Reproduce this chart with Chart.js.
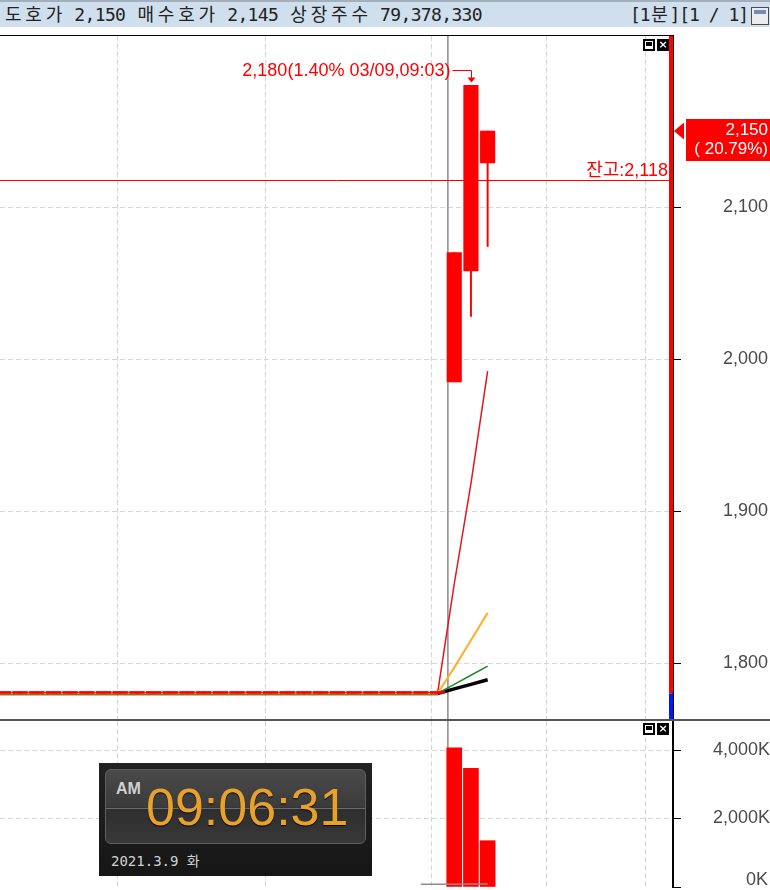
<!DOCTYPE html>
<html lang="ko"><head><meta charset="utf-8">
<script src="https://cdn.jsdelivr.net/npm/chart.js@4/dist/chart.umd.min.js"></script>
<style>
*{box-sizing:border-box}
html,body{margin:0;padding:0;background:#fff;width:770px;height:890px;overflow:hidden;position:relative;font-family:'Liberation Sans','Noto Sans CJK KR',sans-serif}
#hdr{position:absolute;left:0;top:0;width:770px;height:27px;background:#cfdfee;border-top:2px solid #a3afbb}
.mono{position:absolute;top:1px;white-space:nowrap;color:#222;font-family:'DejaVu Sans Mono','Noto Sans CJK KR',monospace;font-size:18px;line-height:24px}
.mono span{display:inline-block;text-align:center}
#winIcon{position:absolute;left:751px;top:5px;width:18px;height:18px;border:1px solid #4d4d4d;background:#ececec}
#winIcon:before{content:'';position:absolute;left:2px;top:2px;right:2px;height:4px;background:#6f8db8}
#priceWrap{position:absolute;left:0;top:30px;width:770px;height:690px}
#volWrap{position:absolute;left:0;top:720px;width:770px;height:170px}
#sep{position:absolute;left:0;top:719px;width:770px;height:2px;background:#555}
.bmax{position:absolute;width:12px;height:12px;background:#fff;border:2px solid #000}
.bmax:after{content:'';position:absolute;left:1px;top:1px;width:6px;height:4px;background:#000}
.bx{position:absolute;width:12px;height:12px;background:#000;color:#fff;font:bold 11px/12px 'DejaVu Sans',sans-serif;text-align:center}
#clock{position:absolute;left:99px;top:763px;width:273px;height:113px;background:linear-gradient(#222,#161616);z-index:5}
#clockFace{position:absolute;left:6px;top:6px;width:261px;height:75px;border-radius:6px;border:1px solid #5e5e5e;background:linear-gradient(#4a4a4a 0%,#3b3b3b 51%,#2e2e2e 52%,#383838 100%)}
#clockLine{position:absolute;left:0;right:0;top:38px;height:1px;background:#6c6c6c}
#ampm{position:absolute;left:10px;top:11px;font:bold 16px/16px 'Liberation Sans',sans-serif;color:#d0d0d0}
#clockTime{position:absolute;left:40px;top:11px;font:52px/52px 'Liberation Sans',sans-serif;color:#e8a22c;text-shadow:0 1px 1px #000}
#clockDate{position:absolute;left:12px;top:91px;font:14px/14px 'DejaVu Sans Mono','Noto Sans CJK KR',monospace;color:#d2d2d2}
</style>
</head><body>
<div id="hdr">
  <div class="mono" id="hdrLeft" style="left:3px"></div>
  <div class="mono" id="hdrRight" style="left:630px"></div>
  <div id="winIcon"></div>
</div>
<div id="priceWrap"><canvas id="price" width="770" height="690"></canvas></div>
<div id="volWrap"><canvas id="vol" width="770" height="170"></canvas></div>
<div id="sep"></div>
<div class="bmax" style="left:643px;top:39px"></div><div class="bx" style="left:657px;top:39px">×</div>
<div class="bmax" style="left:643px;top:723px"></div><div class="bx" style="left:657px;top:723px">×</div>
<div id="clock">
  <div id="clockFace"><div id="clockLine"></div><span id="ampm">AM</span><span id="clockTime">09:06:31</span></div>
  <span id="clockDate">2021.3.9 화</span>
</div>
<script>
// ---------------- data ----------------
const headerLeft = '도호가 2,150 매수호가 2,145 상장주수 79,378,330';
const headerRight = '[1분][1 / 1]';
const tradeDate = '03/09';
const times = ['15:03','15:04','15:05','15:06','15:07','15:08','15:09','15:10','15:11','15:12','15:13','15:14','15:15','15:16','15:17','15:18','15:19','15:20','15:21','15:22','15:23','15:24','15:25','15:26','15:27','15:28','15:29','15:30','09:02','09:03','09:04'];
const opens  = [1780,1780,1780,1780,1780,1780,1780,1780,1780,1780,1780,1780,1780,1780,1780,1780,1780,1780,1780,1780,1780,1780,1780,1780,1780,1780,1780,1780,1985,2058,2129];
const highs  = [1780,1780,1780,1780,1780,1780,1780,1780,1780,1780,1780,1780,1780,1780,1780,1780,1780,1780,1780,1780,1780,1780,1780,1780,1780,1780,1780,1780,2070,2180,2150];
const lows   = [1780,1780,1780,1780,1780,1780,1780,1780,1780,1780,1780,1780,1780,1780,1780,1780,1780,1780,1780,1780,1780,1780,1780,1780,1780,1780,1780,1780,1985,2028,2074];
const closes = [1780,1780,1780,1780,1780,1780,1780,1780,1780,1780,1780,1780,1780,1780,1780,1780,1780,1780,1780,1780,1780,1780,1780,1780,1780,1780,1780,1780,2070,2180,2150];
const ma5    = [1780,1780,1780,1780,1780,1780,1780,1780,1780,1780,1780,1780,1780,1780,1780,1780,1780,1780,1780,1780,1780,1780,1780,1780,1780,1780,1780,1780,1852,1918,1992];
const ma20   = [1780,1780,1780,1780,1780,1780,1780,1780,1780,1780,1780,1780,1780,1780,1780,1780,1780,1780,1780,1780,1780,1780,1780,1780,1780,1780,1780,1780,1797,1815,1833];
const ma60   = [1780,1780,1780,1780,1780,1780,1780,1780,1780,1780,1780,1780,1780,1780,1780,1780,1780,1780,1780,1780,1780,1780,1780,1780,1780,1780,1780,1780,1786,1792,1798];
const ma120  = [1780,1780,1780,1780,1780,1780,1780,1780,1780,1780,1780,1780,1780,1780,1780,1780,1780,1780,1780,1780,1780,1780,1780,1780,1780,1780,1780,1780,1783,1786,1789];
const volumes= [0,0,0,0,0,0,0,0,0,0,0,0,0,0,0,0,0,0,0,0,0,0,0,0,0,0,0,0,4067000,3466000,1352000];
const volMA  = [null,null,null,null,null,null,null,null,null,null,null,null,null,null,null,null,null,null,null,null,null,null,null,null,null,null,80000,80000,82000,84000,85000];
const prevClose = 1780;
const balancePrice = 2118;
const priceTicks = [1800,1900,2000,2100];
const volumeTicks = [0,2000000,4000000];
const xGridAt = [7.86,16.72,26.66,33.55,39.48];   // time grid lines (bar index units)
const daySepAt = 27.62;                          // session boundary (bar index units)
const xMin = 0.8, xMax = 41.1;
const priceMin = 1763.2, priceMax = 2212.5;
const volMin = 0, volMax = 4847000;

// ---------------- header ----------------
function gridText(el, text, cell){
  for (const ch of text){
    const s = document.createElement('span');
    const wide = /[\u1100-\u11ff\u3130-\u318f\uac00-\ud7af]/.test(ch);
    s.style.width = (wide ? 2*cell : cell) + 'px';
    s.textContent = ch === ' ' ? '\u00a0' : ch;
    el.appendChild(s);
  }
}
gridText(document.getElementById('hdrLeft'), headerLeft, 10.2);
gridText(document.getElementById('hdrRight'), headerRight, 9.85);

// ---------------- helpers ----------------
const fmt = v => Math.round(v).toLocaleString('en-US');
const pts = arr => arr.map((v,i)=>({x:i, y:v}));
const RED = '#ff0000';
const gridColor = '#d6d6d6';
const tickFont = {family:"'Liberation Sans'", size:18};
const labelFont = "18px 'Liberation Sans','Noto Sans CJK KR'";
const last = closes.length - 1;

function xScaleCfg(){
  return {type:'linear', min:xMin, max:xMax, offset:false,
    afterBuildTicks:s=>{ s.ticks = xGridAt.map(v=>({value:v})); },
    afterFit:s=>{ s.height = 0; s.paddingLeft = 0; s.paddingRight = 0; },
    ticks:{display:false},
    grid:{color:gridColor, drawTicks:false, offset:false, borderDash:[5,3]},
    border:{display:false, dash:[5,3]}};
}
const fitY = s => { s.width = 97; s.paddingTop = 0; s.paddingBottom = 0; };

const sepPlugin = {
  id:'daySep',
  beforeDatasetsDraw(chart){
    const {ctx, chartArea:a, scales:{x}} = chart;
    const sx = x.getPixelForValue(daySepAt);
    ctx.save(); ctx.strokeStyle = '#8a8a8a'; ctx.lineWidth = 1.5;
    ctx.beginPath(); ctx.moveTo(sx, a.top); ctx.lineTo(sx, a.bottom); ctx.stroke();
    ctx.restore();
  }
};

const priceDecor = {
  id:'priceDecor',
  afterDatasetsDraw(chart){
    const {ctx, chartArea:a, scales:{x,y}} = chart;
    ctx.save();
    // balance line
    const yb = Math.round(y.getPixelForValue(balancePrice)) + 0.5;
    ctx.strokeStyle = RED; ctx.lineWidth = 1;
    ctx.beginPath(); ctx.moveTo(a.left, yb); ctx.lineTo(a.right, yb); ctx.stroke();
    ctx.fillStyle = RED; ctx.font = labelFont; ctx.textAlign = 'right'; ctx.textBaseline = 'alphabetic';
    ctx.fillText('잔고:' + fmt(balancePrice), a.right - 5, yb - 5);
    // high annotation
    const hi = Math.max(...highs), hiIdx = highs.indexOf(hi);
    const xh = Math.round(x.getPixelForValue(hiIdx)) + 0.5, yh = y.getPixelForValue(hi);
    const ly = Math.round(yh - 15) + 0.5;
    ctx.beginPath(); ctx.moveTo(xh - 19, ly); ctx.lineTo(xh, ly); ctx.lineTo(xh, yh - 7); ctx.stroke();
    ctx.beginPath(); ctx.moveTo(xh - 4, yh - 8); ctx.lineTo(xh + 4, yh - 8); ctx.lineTo(xh, yh - 3); ctx.closePath(); ctx.fill();
    const pct = ((hi - closes[last]) / closes[last] * 100).toFixed(2);
    ctx.textBaseline = 'middle';
    ctx.fillText(fmt(hi) + '(' + pct + '% ' + tradeDate + ',' + times[hiIdx] + ')', xh - 21, ly + 1);
    // right side up/down bar
    const yp = y.getPixelForValue(prevClose);
    ctx.fillStyle = RED; ctx.fillRect(a.right - 4, a.top, 4, yp - a.top);
    ctx.fillStyle = '#0018ff'; ctx.fillRect(a.right - 4, yp, 4, a.bottom - yp);
    ctx.restore();
  },
  afterDraw(chart){
    const {ctx, chartArea:a, scales:{y}} = chart;
    ctx.save();
    ctx.fillStyle = '#000'; ctx.fillRect(0, a.top - 1, a.right, 1);
    // current price box
    const cur = closes[last];
    const yc = Math.round(y.getPixelForValue(cur));
    ctx.fillStyle = RED;
    ctx.beginPath(); ctx.moveTo(a.right + 1, yc); ctx.lineTo(a.right + 11, yc - 8.5); ctx.lineTo(a.right + 11, yc + 8.5); ctx.closePath(); ctx.fill();
    ctx.fillRect(a.right + 13, yc - 12, 770 - a.right - 13, 42);
    ctx.fillStyle = '#fff'; ctx.font = "17px 'Liberation Sans'"; ctx.textAlign = 'right'; ctx.textBaseline = 'middle';
    ctx.fillText(fmt(cur), 768, yc - 1);
    const chg = ((cur - prevClose) / prevClose * 100).toFixed(2);
    ctx.fillText('( ' + chg + '%)', 768, yc + 18);
    ctx.restore();
  }
};

new Chart(document.getElementById('price'), {
  type:'bar',
  data:{datasets:[
    {type:'bar', label:'캔들', data:times.map((t,i)=>({x:i, y:[opens[i], closes[i]]})),
     backgroundColor:times.map((t,i)=> closes[i] >= opens[i] ? RED : '#0000ff'),
     barThickness:14.5, minBarLength:2, grouped:false, order:0},
    {type:'bar', label:'꼬리', data:times.map((t,i)=>({x:i, y:[lows[i], highs[i]]})),
     backgroundColor:RED, barThickness:1.3, grouped:false, order:1},
    {type:'line', label:'20', data:pts(ma20), borderColor:'#ffae2e', borderWidth:2, pointRadius:0, order:2},
    {type:'line', label:'5', data:pts(ma5), borderColor:'#e3161e', borderWidth:1.5, pointRadius:0, order:3},
    {type:'line', label:'60', data:pts(ma60), borderColor:'#1e8c1e', borderWidth:1.5, pointRadius:0, order:4},
    {type:'line', label:'120', data:pts(ma120), borderColor:'#000', borderWidth:3.5, pointRadius:0, order:5}
  ]},
  options:{
    responsive:false, animation:false, devicePixelRatio:1,
    layout:{padding:{top:6, bottom:1, left:0, right:0}},
    plugins:{legend:{display:false}, tooltip:{enabled:false}},
    scales:{
      x:xScaleCfg(),
      y:{position:'right', min:priceMin, max:priceMax,
         afterBuildTicks:s=>{ s.ticks = priceTicks.map(v=>({value:v})); },
         afterFit:fitY,
         ticks:{font:tickFont, color:'#4a4a4a', padding:42, crossAlign:'near', callback:v=>fmt(v)},
         grid:{color:gridColor, tickColor:'#000', tickLength:8, tickWidth:1, tickBorderDash:[], borderDash:[5,3]},
         border:{display:true, color:'#000', width:2, dash:[5,3]}}
    }
  },
  plugins:[sepPlugin, priceDecor]
});

const volDecor = {
  id:'volDecor',
  afterDraw(chart){
    const {ctx, scales:{y}} = chart;
    ctx.save();
    ctx.fillStyle = '#4a4a4a'; ctx.font = "18px 'Liberation Sans'"; ctx.textAlign = 'right'; ctx.textBaseline = 'bottom';
    ctx.fillText((volumeTicks[0]/1000) + 'K', 768, y.getPixelForValue(volumeTicks[0]) + 2);
    ctx.restore();
  }
};

new Chart(document.getElementById('vol'), {
  type:'bar',
  data:{datasets:[
    {type:'bar', label:'거래량', data:pts(volumes),
     backgroundColor:times.map((t,i)=> volumes[i] === 0 ? 'rgba(0,0,0,0)' : (closes[i] >= opens[i] ? RED : '#0000ff')),
     barThickness:15, grouped:false, order:1},
    {type:'line', label:'거래량MA', data:pts(volMA), borderColor:'#8c8c8c', borderWidth:1.5, pointRadius:0, order:0}
  ]},
  options:{
    responsive:false, animation:false, devicePixelRatio:1,
    layout:{padding:{top:1, bottom:3, left:0, right:0}},
    plugins:{legend:{display:false}, tooltip:{enabled:false}},
    scales:{
      x:xScaleCfg(),
      y:{position:'right', min:volMin, max:volMax,
         afterBuildTicks:s=>{ s.ticks = volumeTicks.map(v=>({value:v})); },
         afterFit:fitY,
         ticks:{font:tickFont, color:'#4a4a4a', padding:30, crossAlign:'far', callback:v=> v === 0 ? '' : fmt(v/1000) + 'K'},
         grid:{color:c => (c.tick && c.tick.value === 0) ? 'rgba(0,0,0,0)' : gridColor, tickColor:'#000', tickLength:8, tickWidth:1, tickBorderDash:[], borderDash:[5,3]},
         border:{display:true, color:'#000', width:2, dash:[5,3]}}
    }
  },
  plugins:[sepPlugin, volDecor]
});
</script>
</body></html>
